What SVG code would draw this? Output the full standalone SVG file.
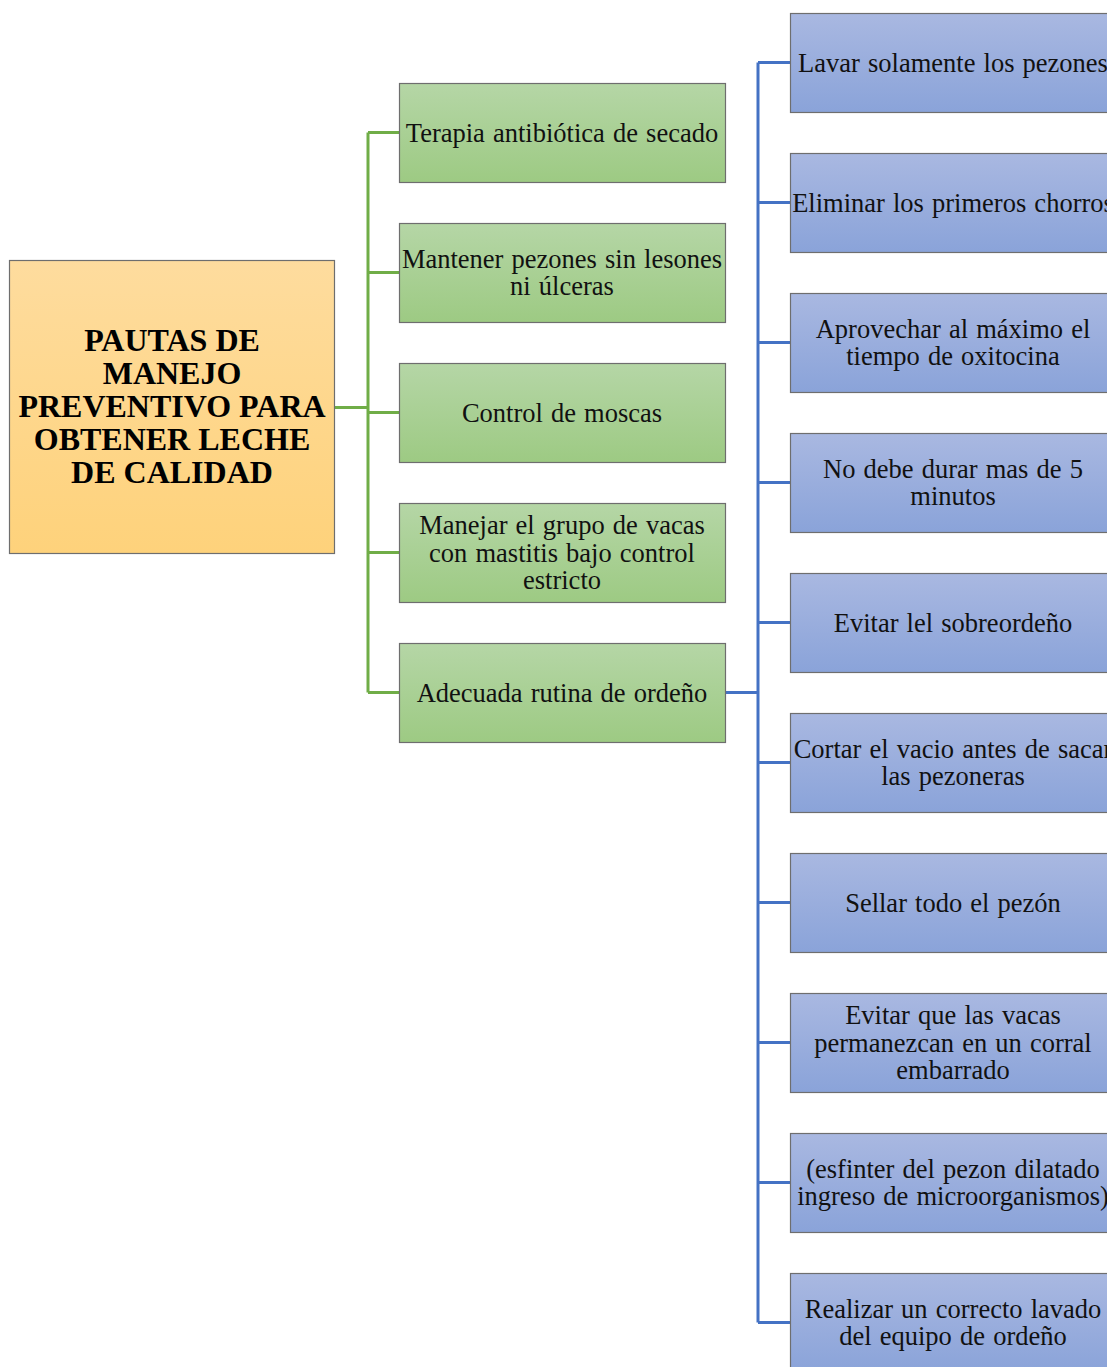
<svg xmlns="http://www.w3.org/2000/svg" width="1107" height="1367" viewBox="0 0 1107 1367">
<defs>
<linearGradient id="gOr" x1="0" y1="0" x2="0" y2="1"><stop offset="0" stop-color="#fedc9e"/><stop offset="1" stop-color="#fed27b"/></linearGradient>
<linearGradient id="gGr" x1="0" y1="0" x2="0" y2="1"><stop offset="0" stop-color="#b5d6a6"/><stop offset="1" stop-color="#9dca83"/></linearGradient>
<linearGradient id="gBl" x1="0" y1="0" x2="0" y2="1"><stop offset="0" stop-color="#a9b8e1"/><stop offset="1" stop-color="#8aa3d9"/></linearGradient>
</defs>
<style>
.box{stroke:#6e6e6e;stroke-width:1.2}
.t{font-family:"Liberation Serif","Times New Roman",serif;font-size:26.5px;word-spacing:1.5px;fill:#111;text-anchor:middle}
.tr{font-family:"Liberation Serif","Times New Roman",serif;font-size:32px;font-weight:bold;fill:#000;text-anchor:middle}
.cg{stroke:#70ad47;stroke-width:3;fill:none}
.cb{stroke:#4472c4;stroke-width:3;fill:none}
</style>
<g id="connectors">
<path class="cg" d="M334 407.5H368M368 132.5V692.5M368 132.5H399M368 272.5H399M368 412.5H399M368 552.5H399M368 692.5H399"/>
<path class="cb" d="M725 692.5H758M758 62.5V1322.5M758 62.5H790M758 202.5H790M758 342.5H790M758 482.5H790M758 622.5H790M758 762.5H790M758 902.5H790M758 1042.5H790M758 1182.5H790M758 1322.5H790"/>
</g>
<g id="root"><rect class="box" x="9.5" y="260.5" width="325" height="293" fill="url(#gOr)"/>
<text class="tr" x="172" y="351">PAUTAS DE</text><text class="tr" x="172" y="384">MANEJO</text><text class="tr" x="172" y="417">PREVENTIVO PARA</text><text class="tr" x="172" y="450">OBTENER LECHE</text><text class="tr" x="172" y="483">DE CALIDAD</text></g>
<g id="g1"><rect class="box" x="399.5" y="83.5" width="326" height="99" fill="url(#gGr)"/><text class="t" x="562" y="142">Terapia antibiótica de secado</text></g>
<g id="g2"><rect class="box" x="399.5" y="223.5" width="326" height="99" fill="url(#gGr)"/><text class="t" x="562" y="268">Mantener pezones sin lesones</text><text class="t" x="562" y="295">ni úlceras</text></g>
<g id="g3"><rect class="box" x="399.5" y="363.5" width="326" height="99" fill="url(#gGr)"/><text class="t" x="562" y="422">Control de moscas</text></g>
<g id="g4"><rect class="box" x="399.5" y="503.5" width="326" height="99" fill="url(#gGr)"/><text class="t" x="562" y="534">Manejar el grupo de vacas</text><text class="t" x="562" y="562">con mastitis bajo control</text><text class="t" x="562" y="589">estricto</text></g>
<g id="g5"><rect class="box" x="399.5" y="643.5" width="326" height="99" fill="url(#gGr)"/><text class="t" x="562" y="702">Adecuada rutina de ordeño</text></g>
<g id="b1"><rect class="box" x="790.5" y="13.5" width="326" height="99" fill="url(#gBl)"/><text class="t" x="953" y="72">Lavar solamente los pezones</text></g>
<g id="b2"><rect class="box" x="790.5" y="153.5" width="326" height="99" fill="url(#gBl)"/><text class="t" x="953" y="212">Eliminar los primeros chorros</text></g>
<g id="b3"><rect class="box" x="790.5" y="293.5" width="326" height="99" fill="url(#gBl)"/><text class="t" x="953" y="338">Aprovechar al máximo el</text><text class="t" x="953" y="365">tiempo de oxitocina</text></g>
<g id="b4"><rect class="box" x="790.5" y="433.5" width="326" height="99" fill="url(#gBl)"/><text class="t" x="953" y="478">No debe durar mas de 5</text><text class="t" x="953" y="505">minutos</text></g>
<g id="b5"><rect class="box" x="790.5" y="573.5" width="326" height="99" fill="url(#gBl)"/><text class="t" x="953" y="632">Evitar lel sobreordeño</text></g>
<g id="b6"><rect class="box" x="790.5" y="713.5" width="326" height="99" fill="url(#gBl)"/><text class="t" x="953" y="758">Cortar el vacio antes de sacar</text><text class="t" x="953" y="785">las pezoneras</text></g>
<g id="b7"><rect class="box" x="790.5" y="853.5" width="326" height="99" fill="url(#gBl)"/><text class="t" x="953" y="912">Sellar todo el pezón</text></g>
<g id="b8"><rect class="box" x="790.5" y="993.5" width="326" height="99" fill="url(#gBl)"/><text class="t" x="953" y="1024">Evitar que las vacas</text><text class="t" x="953" y="1052">permanezcan en un corral</text><text class="t" x="953" y="1079">embarrado</text></g>
<g id="b9"><rect class="box" x="790.5" y="1133.5" width="326" height="99" fill="url(#gBl)"/><text class="t" x="953" y="1178">(esfinter del pezon dilatado</text><text class="t" x="953" y="1205">ingreso de microorganismos)</text></g>
<g id="b10"><rect class="box" x="790.5" y="1273.5" width="326" height="99" fill="url(#gBl)"/><text class="t" x="953" y="1318">Realizar un correcto lavado</text><text class="t" x="953" y="1345">del equipo de ordeño</text></g>
</svg>
